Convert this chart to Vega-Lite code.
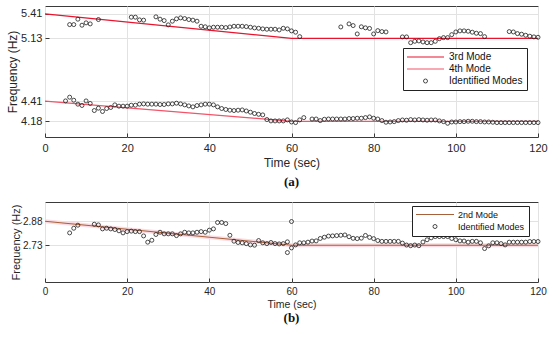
{
  "$schema": "https://vega.github.io/schema/vega-lite/v6.json",
  "background": "white",
  "padding": {"left": 5, "top": 5, "right": 5, "bottom": 0},
  "spacing": 11,
  "config": {
    "font": "Liberation Sans",
    "view": {"stroke": "#3a3a3a", "strokeWidth": 1},
    "axis": {
      "grid": true, "gridColor": "#e2e2e2", "gridWidth": 1, "domain": false,
      "tickColor": "#3a3a3a", "tickSize": -4, "tickWidth": 1,
      "labelColor": "#262626", "titleColor": "#262626", "titleFontWeight": "normal",
      "labelFont": "Liberation Sans", "titleFont": "Liberation Sans", "labelFlush": false
    },
    "title": {"font": "Liberation Serif", "fontWeight": "bold", "fontSize": 13, "color": "#111111"}
  },
  "resolve": {"scale": {"color": "independent", "x": "independent", "y": "independent"}, "legend": {"color": "independent"}},
  "datasets": {
    "linesA": [
      {"t": 0, "f": 5.41, "series": "3rd Mode"}, {"t": 60, "f": 5.13, "series": "3rd Mode"}, {"t": 120, "f": 5.13, "series": "3rd Mode"},
      {"t": 0, "f": 4.41, "series": "4th Mode"}, {"t": 60, "f": 4.18, "series": "4th Mode"}, {"t": 120, "f": 4.18, "series": "4th Mode"}
    ],
    "ptsA": [
      {"t":6,"f":5.287},{"t":7,"f":5.287},{"t":8,"f":5.349},{"t":9,"f":5.28},{"t":10,"f":5.307},{"t":11,"f":5.295},{"t":13,"f":5.345},
      {"t":21,"f":5.372},{"t":22,"f":5.372},{"t":23,"f":5.341},{"t":24,"f":5.338},
      {"t":27,"f":5.376},{"t":28,"f":5.349},{"t":29,"f":5.333},{"t":30,"f":5.284},{"t":31,"f":5.326},{"t":32,"f":5.353},{"t":33,"f":5.364},{"t":34,"f":5.356},{"t":35,"f":5.345},{"t":36,"f":5.338},{"t":37,"f":5.326},{"t":38,"f":5.268},{"t":39,"f":5.262},{"t":40,"f":5.25},
      {"t":41,"f":5.257},{"t":42,"f":5.257},{"t":43,"f":5.257},{"t":44,"f":5.253},{"t":45,"f":5.26},{"t":46,"f":5.268},{"t":47,"f":5.268},{"t":48,"f":5.268},{"t":49,"f":5.264},{"t":50,"f":5.257},
      {"t":51,"f":5.249},{"t":52,"f":5.245},{"t":53,"f":5.238},{"t":54,"f":5.234},{"t":55,"f":5.234},{"t":56,"f":5.234},{"t":57,"f":5.226},{"t":58,"f":5.245},{"t":59,"f":5.238},{"t":60,"f":5.215},{"t":61,"f":5.2},{"t":62,"f":5.149},
      {"t":72,"f":5.26},{"t":74,"f":5.295},{"t":75,"f":5.276},{"t":76,"f":5.18},{"t":77,"f":5.262},{"t":78,"f":5.25},{"t":79,"f":5.243},{"t":80,"f":5.18},{"t":81,"f":5.218},{"t":82,"f":5.207},{"t":83,"f":5.203},
      {"t":87,"f":5.146},{"t":88,"f":5.146},{"t":89,"f":5.08},{"t":90,"f":5.096},{"t":91,"f":5.1},{"t":92,"f":5.088},{"t":93,"f":5.08},{"t":94,"f":5.08},{"t":95,"f":5.096},{"t":96,"f":5.126},{"t":97,"f":5.138},{"t":98,"f":5.138},{"t":99,"f":5.172},{"t":100,"f":5.203},
      {"t":101,"f":5.215},{"t":102,"f":5.215},{"t":103,"f":5.211},{"t":104,"f":5.2},{"t":105,"f":5.188},{"t":106,"f":5.184},{"t":107,"f":5.149},
      {"t":113,"f":5.207},{"t":114,"f":5.203},{"t":115,"f":5.184},{"t":116,"f":5.177},{"t":117,"f":5.165},{"t":118,"f":5.154},{"t":119,"f":5.146},{"t":120,"f":5.142},
      {"t":5,"f":4.413},{"t":6,"f":4.456},{"t":7,"f":4.421},{"t":8,"f":4.376},{"t":9,"f":4.361},{"t":10,"f":4.413},{"t":11,"f":4.384},{"t":12,"f":4.303},{"t":13,"f":4.33},{"t":14,"f":4.292},{"t":15,"f":4.326},
      {"t":16,"f":4.338},{"t":17,"f":4.368},{"t":18,"f":4.353},{"t":19,"f":4.353},{"t":20,"f":4.353},{"t":21,"f":4.364},{"t":22,"f":4.364},{"t":23,"f":4.376},{"t":24,"f":4.379},{"t":25,"f":4.376},
      {"t":26,"f":4.376},{"t":27,"f":4.376},{"t":28,"f":4.372},{"t":29,"f":4.372},{"t":30,"f":4.379},{"t":31,"f":4.379},{"t":32,"f":4.387},{"t":33,"f":4.379},{"t":34,"f":4.368},{"t":35,"f":4.356},
      {"t":36,"f":4.345},{"t":37,"f":4.36},{"t":38,"f":4.368},{"t":39,"f":4.376},{"t":40,"f":4.376},{"t":41,"f":4.368},{"t":42,"f":4.345},{"t":43,"f":4.326},{"t":44,"f":4.315},{"t":45,"f":4.307},
      {"t":46,"f":4.303},{"t":47,"f":4.307},{"t":48,"f":4.31},{"t":49,"f":4.298},{"t":50,"f":4.284},{"t":51,"f":4.269},{"t":52,"f":4.26},{"t":53,"f":4.253},{"t":54,"f":4.2},{"t":55,"f":4.184},
      {"t":56,"f":4.184},{"t":57,"f":4.184},{"t":58,"f":4.184},{"t":59,"f":4.196},{"t":60,"f":4.172},{"t":61,"f":4.165},{"t":62,"f":4.196},{"t":63,"f":4.222},
      {"t":65,"f":4.206},{"t":66,"f":4.206},{"t":67,"f":4.188},{"t":68,"f":4.203},{"t":69,"f":4.206},{"t":70,"f":4.206},{"t":71,"f":4.206},{"t":72,"f":4.206},{"t":73,"f":4.206},{"t":74,"f":4.211},{"t":75,"f":4.211},
      {"t":76,"f":4.215},{"t":77,"f":4.215},{"t":78,"f":4.222},{"t":79,"f":4.23},{"t":80,"f":4.215},{"t":81,"f":4.206},{"t":82,"f":4.188},{"t":83,"f":4.169},{"t":84,"f":4.172},{"t":85,"f":4.176},
      {"t":86,"f":4.188},{"t":87,"f":4.195},{"t":88,"f":4.192},{"t":89,"f":4.199},{"t":90,"f":4.195},{"t":91,"f":4.199},{"t":92,"f":4.195},{"t":93,"f":4.192},{"t":94,"f":4.195},{"t":95,"f":4.195},
      {"t":96,"f":4.184},{"t":97,"f":4.176},{"t":98,"f":4.157},{"t":99,"f":4.172},{"t":100,"f":4.172},{"t":101,"f":4.176},{"t":102,"f":4.176},{"t":103,"f":4.18},{"t":104,"f":4.18},{"t":105,"f":4.176},
      {"t":106,"f":4.176},{"t":107,"f":4.172},{"t":108,"f":4.172},{"t":109,"f":4.169},{"t":110,"f":4.165},{"t":111,"f":4.165},{"t":112,"f":4.165},{"t":113,"f":4.165},{"t":114,"f":4.165},{"t":115,"f":4.165},
      {"t":116,"f":4.165},{"t":117,"f":4.165},{"t":118,"f":4.165},{"t":119,"f":4.165},{"t":120,"f":4.165}
    ],
    "linesB": [
      {"t": 0, "f": 2.88, "series": "2nd Mode"}, {"t": 60, "f": 2.73, "series": "2nd Mode"}, {"t": 120, "f": 2.73, "series": "2nd Mode"}
    ],
    "ptsB": [
      {"t":6,"f":2.807},{"t":7,"f":2.836},{"t":8,"f":2.855},{"t":12,"f":2.861},{"t":13,"f":2.857},{"t":14,"f":2.832},{"t":15,"f":2.836},{"t":16,"f":2.832},{"t":17,"f":2.828},{"t":18,"f":2.82},
      {"t":19,"f":2.807},{"t":20,"f":2.815},{"t":21,"f":2.818},{"t":22,"f":2.815},{"t":23,"f":2.815},{"t":24,"f":2.788},{"t":25,"f":2.749},{"t":26,"f":2.761},{"t":27,"f":2.797},{"t":28,"f":2.811},
      {"t":29,"f":2.801},{"t":30,"f":2.801},{"t":31,"f":2.801},{"t":32,"f":2.79},{"t":33,"f":2.801},{"t":34,"f":2.811},{"t":35,"f":2.807},{"t":36,"f":2.807},{"t":37,"f":2.811},{"t":38,"f":2.815},
      {"t":39,"f":2.811},{"t":40,"f":2.824},{"t":41,"f":2.832},{"t":42,"f":2.872},{"t":43,"f":2.872},{"t":44,"f":2.865},{"t":45,"f":2.792},{"t":46,"f":2.755},{"t":47,"f":2.747},{"t":48,"f":2.745},
      {"t":49,"f":2.74},{"t":50,"f":2.732},{"t":51,"f":2.73},{"t":52,"f":2.759},{"t":53,"f":2.745},{"t":54,"f":2.74},{"t":55,"f":2.747},{"t":56,"f":2.74},{"t":57,"f":2.738},{"t":58,"f":2.74},
      {"t":59,"f":2.751},{"t":59,"f":2.684},{"t":60,"f":2.878},{"t":60,"f":2.713},{"t":61,"f":2.732},{"t":62,"f":2.745},{"t":63,"f":2.745},{"t":64,"f":2.749},{"t":65,"f":2.756},{"t":66,"f":2.757},
      {"t":67,"f":2.772},{"t":68,"f":2.78},{"t":69,"f":2.787},{"t":70,"f":2.788},{"t":71,"f":2.79},{"t":72,"f":2.792},{"t":73,"f":2.794},{"t":74,"f":2.783},{"t":75,"f":2.773},{"t":76,"f":2.771},
      {"t":77,"f":2.774},{"t":78,"f":2.791},{"t":79,"f":2.779},{"t":80,"f":2.771},{"t":81,"f":2.759},{"t":82,"f":2.754},{"t":83,"f":2.754},{"t":84,"f":2.754},{"t":85,"f":2.754},{"t":86,"f":2.754},
      {"t":87,"f":2.743},{"t":88,"f":2.731},{"t":89,"f":2.727},{"t":90,"f":2.731},{"t":91,"f":2.727},{"t":92,"f":2.75},{"t":93,"f":2.764},{"t":94,"f":2.776},{"t":95,"f":2.784},{"t":96,"f":2.784},
      {"t":97,"f":2.784},{"t":98,"f":2.784},{"t":99,"f":2.772},{"t":100,"f":2.764},{"t":101,"f":2.757},{"t":102,"f":2.756},{"t":103,"f":2.749},{"t":104,"f":2.754},{"t":105,"f":2.754},{"t":106,"f":2.745},
      {"t":107,"f":2.709},{"t":108,"f":2.726},{"t":109,"f":2.745},{"t":110,"f":2.745},{"t":111,"f":2.74},{"t":112,"f":2.732},{"t":113,"f":2.749},{"t":114,"f":2.749},{"t":115,"f":2.749},{"t":116,"f":2.749},
      {"t":117,"f":2.749},{"t":118,"f":2.753},{"t":119,"f":2.753},{"t":120,"f":2.753}
    ]
  },
  "vconcat": [
    {
      "width": 493,
      "height": 131,
      "title": {"text": "(a)", "orient": "bottom", "offset": 8},
      "encoding": {
        "x": {"field": "t", "type": "quantitative", "scale": {"domain": [0, 120], "nice": false},
              "axis": {"title": "Time (sec)", "values": [0, 20, 40, 60, 80, 100, 120], "labelFontSize": 11, "titleFontSize": 12, "labelPadding": 9, "titlePadding": 4}},
        "y": {"field": "f", "type": "quantitative", "scale": {"domain": [4.0, 5.5], "nice": false, "zero": false},
              "axis": {"title": "Frequency (Hz)", "values": [4.18, 4.41, 5.13, 5.41], "format": ".2f", "labelFontSize": 11, "titleFontSize": 12, "labelPadding": 7, "titleX": -26,
                       "encode": {"labels": {"update": {"dx": {"signal": "datum.value > 5.4 ? -10 : 0"}}}}}}
      },
      "layer": [
        {
          "data": {"name": "linesA"},
          "mark": {"type": "line", "strokeWidth": 1.2},
          "encoding": {
            "color": {"field": "series", "type": "nominal",
              "scale": {"domain": ["3rd Mode", "4th Mode", "Identified Modes"], "range": ["#e8142e", "#f25468", "#1e1e1e"]},
              "legend": {"title": null, "orient": "none", "legendX": 358, "legendY": 42, "direction": "vertical",
                "fillColor": "white", "strokeColor": "#222222", "padding": 4, "labelFontSize": 10, "labelColor": "#111111",
                "symbolStrokeWidth": 1.2, "rowPadding": 2,
                "encode": {
                  "symbols": {"update": {
                    "x": {"value": 18.5},
                    "shape": {"signal": "datum.value === 'Identified Modes' ? 'circle' : 'stroke'"},
                    "size": {"signal": "datum.value === 'Identified Modes' ? 16 : 1369"},
                    "fill": {"value": "transparent"},
                    "strokeWidth": {"signal": "datum.value === 'Identified Modes' ? 0.8 : 1.2"}}},
                  "labels": {"update": {"x": {"value": 42}}}
                }}
            }
          }
        },
        {
          "data": {"name": "ptsA"},
          "mark": {"type": "point", "filled": false, "size": 16, "strokeWidth": 0.8, "opacity": 1},
          "encoding": {"color": {"datum": "Identified Modes", "type": "nominal"}}
        }
      ]
    },
    {
      "width": 493,
      "height": 80,
      "title": {"text": "(b)", "orient": "bottom", "offset": 2},
      "encoding": {
        "x": {"field": "t", "type": "quantitative", "scale": {"domain": [0, 120], "nice": false},
              "axis": {"title": "Time (sec)", "values": [0, 20, 40, 60, 80, 100, 120], "labelFontSize": 10, "titleFontSize": 10.5, "labelPadding": 8, "titlePadding": 3}},
        "y": {"field": "f", "type": "quantitative", "scale": {"domain": [2.5, 3.0], "nice": false, "zero": false},
              "axis": {"title": "Frequency (Hz)", "values": [2.73, 2.88], "format": ".2f", "labelFontSize": 10, "titleFontSize": 11, "labelPadding": 7, "titleX": -24}}
      },
      "layer": [
        {
          "data": {"name": "linesB"},
          "mark": {"type": "line", "strokeWidth": 4, "color": "#fadbe2"},
          "encoding": {}
        },
        {
          "data": {"name": "linesB"},
          "mark": {"type": "line", "strokeWidth": 1.1},
          "encoding": {
            "color": {"field": "series", "type": "nominal",
              "scale": {"domain": ["2nd Mode", "Identified Modes"], "range": ["#a8603a", "#1e1e1e"]},
              "legend": {"title": null, "orient": "none", "legendX": 367, "legendY": 4, "direction": "vertical",
                "fillColor": "white", "strokeColor": "#222222", "padding": 4, "labelFontSize": 9, "labelColor": "#111111",
                "symbolStrokeWidth": 1.1, "rowPadding": 2,
                "encode": {
                  "symbols": {"update": {
                    "x": {"value": 19},
                    "shape": {"signal": "datum.value === 'Identified Modes' ? 'circle' : 'stroke'"},
                    "size": {"signal": "datum.value === 'Identified Modes' ? 16 : 1444"},
                    "fill": {"value": "transparent"},
                    "strokeWidth": {"signal": "datum.value === 'Identified Modes' ? 0.8 : 1.1"}}},
                  "labels": {"update": {"x": {"value": 42}}}
                }}
            }
          }
        },
        {
          "data": {"name": "ptsB"},
          "mark": {"type": "point", "filled": false, "size": 16, "strokeWidth": 0.8, "opacity": 1},
          "encoding": {"color": {"datum": "Identified Modes", "type": "nominal"}}
        }
      ]
    }
  ]
}
